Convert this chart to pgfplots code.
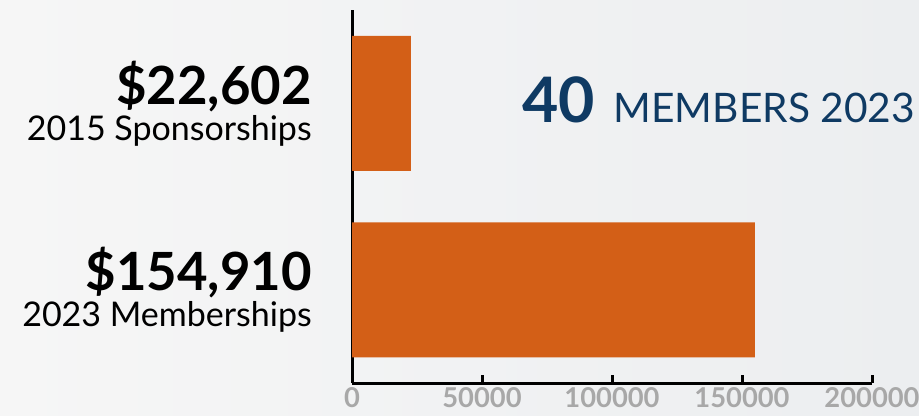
\documentclass[border=0pt]{standalone}
\usepackage{fontspec}
\setmainfont{Lato}
\usepackage{pgfplots}
\pgfplotsset{compat=1.18}
\definecolor{barorange}{HTML}{D35F17}
\definecolor{navy}{HTML}{0F3A63}
\definecolor{tickgray}{HTML}{A8A8A8}
\definecolor{bgl}{HTML}{F6F6F6}
\definecolor{bgr}{HTML}{ECEEF0}
\begin{document}
\begin{tikzpicture}
\shade[left color=bgl, right color=bgr] (0pt,0pt) rectangle (689.25pt,311.25pt);
\useasboundingbox (0pt,0pt) rectangle (689.25pt,311.25pt);
\begin{axis}[
  at={(264pt,24pt)}, anchor=south west,
  scale only axis, width=390pt, height=279.75pt,
  xmin=0, xmax=200000, ymin=-0.5, ymax=1.5,
  axis lines=left,
  axis line style={-, line width=2.25pt, black},
  xtick={0,50000,100000,150000,200000},
  scaled x ticks=false,
  tick align=inside,
  major tick length=6pt,
  xtick style={line width=2.25pt, black},
  ytick={0,1},
  ytick style={draw=none},
  yticklabels={{{\fontsize{39.5}{27}\selectfont\bfseries \$154,910}\\{2023 Memberships}},
               {{\fontsize{39.5}{27}\selectfont\bfseries \$22,602}\\{2015 Sponsorships}}},
  yticklabel style={align=right, anchor=east, inner sep=0pt, xshift=-30pt,
    font=\fontsize{25.5}{27}\selectfont},
  xticklabel style={/pgf/number format/fixed, /pgf/number format/1000 sep={},
    /pgf/number format/assume math mode=true,
    font=\fontsize{20.5}{20.5}\selectfont\bfseries, text=tickgray, inner sep=0pt, yshift=-3pt},
]
\addplot[xbar, fill=barorange, draw=none, bar width=101.25pt] coordinates {(154910,0) (22602,1)};
\end{axis}
\node[anchor=base west, text=navy, inner sep=0pt] at (391.5pt,219.75pt)
  {{\fontsize{47}{47}\selectfont\bfseries 40}\hspace{14pt}{\fontsize{30.5}{30.5}\selectfont MEMBERS 2023}};
\end{tikzpicture}
\end{document}
